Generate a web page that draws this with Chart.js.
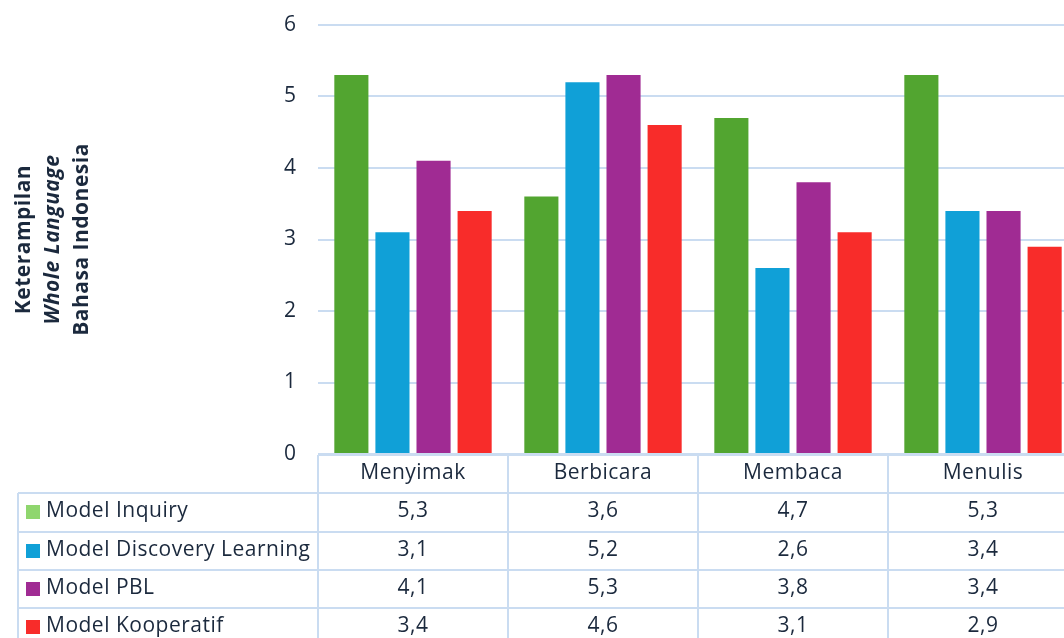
<!DOCTYPE html>
<html>
<head>
<meta charset="utf-8">
<script src="https://cdn.jsdelivr.net/npm/chart.js@4/dist/chart.umd.min.js"></script>
<style>
  html, body { margin: 0; padding: 0; background: #ffffff; overflow: hidden; }
  #wrap { position: relative; width: 1078px; height: 638px; }
</style>
</head>
<body>
<div id="wrap"><canvas id="c"></canvas></div>
<script>
// ---- data ----
const categories = ['Menyimak', 'Berbicara', 'Membaca', 'Menulis'];
const seriesNames = ['Model Inquiry', 'Model Discovery Learning', 'Model PBL', 'Model Kooperatif'];
const inquiry   = [5.3, 3.6, 4.7, 5.3];
const discovery = [3.1, 5.2, 2.6, 3.4];
const pbl       = [4.1, 5.3, 3.8, 3.4];
const kooperatif= [3.4, 4.6, 3.1, 2.9];
const yTicks = [0, 1, 2, 3, 4, 5, 6];
const yTitleLines = ['Keterampilan', 'Whole Language', 'Bahasa Indonesia'];

// ---- styles ----
const barColors = ['#52a530', '#10a0d7', '#a02b93', '#f82c2a'];
const keyColors = ['#8fd66e', '#10a0d7', '#a02b93', '#f82c2a'];
const textColor = '#1b293d';
const lineColor = '#cadcf1';
const FONT = '"Open Sans", sans-serif';
const FS = 21;

const seriesValues = [inquiry, discovery, pbl, kooperatif];

const tablePlugin = {
  id: 'dataTable',
  afterDraw(chart) {
    const ctx = chart.ctx;
    const xs = chart.scales.x;
    const area = chart.chartArea;
    const n = categories.length;
    const catW = (area.right - area.left) / n;
    const top = area.bottom + 1;
    const rowH = 38.3;
    const tableLeft = 18;
    const bottom = 700;
    ctx.save();
    ctx.strokeStyle = lineColor;
    ctx.lineWidth = 2;
    ctx.beginPath();
    ctx.moveTo(area.left, top); ctx.lineTo(area.right + 2, top);
    for (let r = 1; r <= seriesNames.length + 1; r++) {
      const y = Math.round(top + r * rowH);
      ctx.moveTo(tableLeft, y); ctx.lineTo(area.right + 2, y);
    }
    ctx.moveTo(tableLeft, Math.round(top + rowH)); ctx.lineTo(tableLeft, bottom);
    for (let i = 0; i <= n; i++) {
      const x = Math.round(area.left + i * catW);
      ctx.moveTo(x, top); ctx.lineTo(x, bottom);
    }
    ctx.stroke();

    if ('letterSpacing' in ctx) ctx.letterSpacing = '0.5px';
    ctx.fillStyle = textColor;
    ctx.font = FS + 'px ' + FONT;
    ctx.textAlign = 'center';
    ctx.textBaseline = 'middle';
    categories.forEach((c, i) => {
      ctx.fillText(c, xs.getPixelForValue(i), top + rowH / 2 - 1);
    });
    seriesNames.forEach((name, r) => {
      const yc = top + (r + 1) * rowH + rowH / 2 - 1;
      ctx.fillStyle = keyColors[r];
      ctx.fillRect(26, Math.round(yc - 6), 14, 14);
      ctx.fillStyle = textColor;
      ctx.textAlign = 'left';
      ctx.fillText(name, 46, yc);
      ctx.textAlign = 'center';
      seriesValues[r].forEach((v, i) => {
        ctx.fillText(v.toFixed(1).replace('.', ','), xs.getPixelForValue(i), yc);
      });
    });

    const cy = (area.top + area.bottom) / 2;
    const baselines = [30, 59, 88];
    yTitleLines.forEach((t, k) => {
      ctx.save();
      ctx.translate(baselines[k], cy);
      ctx.rotate(-Math.PI / 2);
      ctx.font = (k === 1 ? 'italic ' : '') + 'bold ' + FS + 'px ' + FONT;
      ctx.textAlign = 'center';
      ctx.textBaseline = 'alphabetic';
      ctx.fillStyle = textColor;
      ctx.fillText(t, 0, 0);
      ctx.restore();
    });
    ctx.restore();
  }
};

new Chart(document.getElementById('c'), {
  type: 'bar',
  data: {
    labels: categories,
    datasets: seriesNames.map((name, i) => ({
      label: name,
      data: seriesValues[i],
      backgroundColor: barColors[i],
      borderWidth: 0,
      barPercentage: 0.83,
      categoryPercentage: 0.865
    }))
  },
  options: {
    responsive: true,
    maintainAspectRatio: false,
    animation: false,
    layout: { padding: { top: 25, right: 0, bottom: 0, left: 0 } },
    plugins: { legend: { display: false }, tooltip: { enabled: false } },
    scales: {
      x: {
        grid: { display: false, drawTicks: false },
        border: { display: false },
        ticks: { display: false },
        afterFit(scale) { scale.height = 638 - 454; }
      },
      y: {
        min: 0, max: 6,
        afterBuildTicks(scale) { scale.ticks = yTicks.map(v => ({ value: v })); },
        grid: { color: lineColor, lineWidth: 2, drawTicks: true, tickLength: 12, tickColor: 'rgba(0,0,0,0)' },
        border: { display: false },
        ticks: { color: textColor, font: { family: FONT, size: FS }, padding: 10 },
        afterFit(scale) { scale.width = 318; }
      }
    }
  },
  plugins: [tablePlugin]
});
</script>
</body>
</html>
